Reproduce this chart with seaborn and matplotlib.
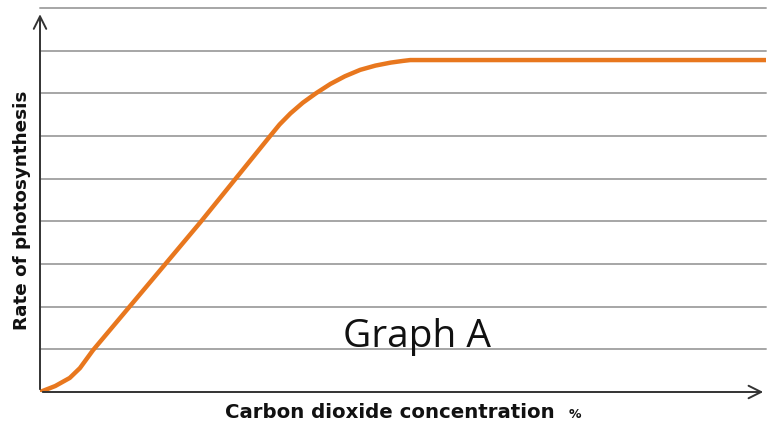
import matplotlib
matplotlib.use("Agg")
import matplotlib.pyplot as plt
import seaborn as sns
import pandas as pd

# curve (x: CO2 concentration, y: rate), arbitrary units
co2 = [0.0, 0.21, 0.41, 0.55, 0.73, 1.52, 2.21, 2.69, 3.17, 3.30, 3.45, 3.62, 3.80, 4.0, 4.2, 4.41, 4.62, 4.83, 5.0, 5.10, 5.38, 10.0]
rate = [0.0, 0.14, 0.33, 0.56, 0.98, 2.58, 3.98, 4.99, 6.0, 6.27, 6.53, 6.78, 7.0, 7.22, 7.40, 7.55, 7.65, 7.72, 7.76, 7.78, 7.78, 7.78]
grid_levels = [1, 2, 3, 4, 5, 6, 7, 8, 9]

df = pd.DataFrame({"co2": co2, "rate": rate})

sns.set_style("white")
fig = plt.figure(figsize=(7.67, 4.24), dpi=100)
ax = fig.add_axes([40 / 767, 32 / 424, 726 / 767, 384 / 424])

for g in grid_levels:
    ax.axhline(g, color="#a6a6a6", lw=1.4, zorder=1, clip_on=False)

sns.lineplot(data=df, x="co2", y="rate", ax=ax, color="#e8771e", lw=3.2, zorder=3)

ax.set_xlim(0, 10)
ax.set_ylim(0, 9)
ax.set_xticks([])
ax.set_yticks([])
for s in ax.spines.values():
    s.set_visible(False)
ax.set_xlabel("")
ax.set_ylabel("")

# axes with arrow heads
arrow = dict(arrowstyle="->,head_length=0.9,head_width=0.45", color="#333333", lw=1.4)
ax.annotate("", xy=(0, 8.92), xytext=(0, 0), arrowprops=arrow, annotation_clip=False)
ax.annotate("", xy=(10.0, 0), xytext=(0, 0), arrowprops=arrow, annotation_clip=False)

fig.text(22 / 767, 1 - 210 / 424, "Rate of photosynthesis", rotation=90, ha="center", va="center",
         fontsize=13.2, fontweight="bold", color="#111111")
fig.text(225 / 767, 1 - 412 / 424, "Carbon dioxide concentration", ha="left", va="center",
         fontsize=14.2, fontweight="bold", color="#111111")
fig.text(575 / 767, 1 - 414 / 424, "%", ha="center", va="center",
         fontsize=9, fontweight="bold", color="#111111")
ax.text(4.18, 1.05, "Graph A", ha="left", va="baseline", fontsize=28,
        family="Open Sans", color="#111111")

fig.savefig("out.png", dpi=100)
